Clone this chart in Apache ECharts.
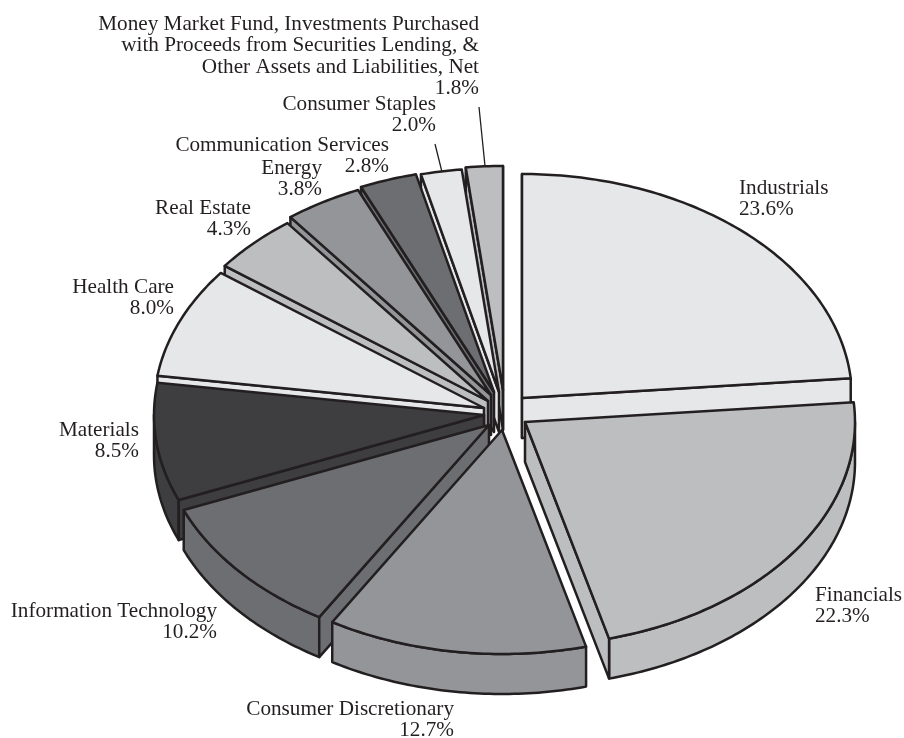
<!DOCTYPE html>
<html>
<head>
<meta charset="utf-8">
<style>html,body{margin:0;padding:0;background:#fff}#chart{width:904px;height:738px}</style>
<script src="https://cdn.jsdelivr.net/npm/echarts@6/dist/echarts.min.js"></script>
</head>
<body>
<div id="chart"></div>
<script>
// Sector weights, in percent, clockwise from twelve o'clock
const sectors = [
  'Industrials', 'Financials', 'Consumer Discretionary', 'Information Technology',
  'Materials', 'Health Care', 'Real Estate', 'Energy', 'Communication Services',
  'Consumer Staples',
  'Money Market Fund, Investments Purchased\nwith Proceeds from Securities Lending, &\nOther Assets and Liabilities, Net'
];
const weights = [23.6, 22.3, 12.7, 10.2, 8.5, 8.0, 4.3, 3.8, 2.8, 2.0, 1.8];

// Grey ramp used around the pie
const fills = ['#e6e7e8', '#bcbec0', '#939598', '#6d6e71', '#3e3e40', '#e6e7e8',
               '#bcbec0', '#939598', '#6d6e71', '#e6e7e8', '#bcbec0'];

// Wedge tips: each wedge is pulled away from the others by its own amount
const tips = [[522, 398], [525, 422], [502, 430], [489, 425], [484, 415], [484, 408],
              [488, 401], [491, 395], [494, 392], [499, 392], [503, 390]];

// Painting order, back of the pie first
const paintRank = [6, 9, 10, 8, 7, 5, 4, 3, 2, 1, 0];

// Label anchors: x, centre of the first line, alignment
const labelSpots = [
  [739, 188, 'left'], [815, 595, 'left'], [454, 709, 'right'], [217, 611, 'right'],
  [139, 430, 'right'], [174, 287, 'right'], [251, 208, 'right'], [322, 168, 'right'],
  [389, 145, 'right'], [436, 104, 'right'], [479, 24, 'right']
];

// Leader lines for the two thin wedges at the top
const leaders = { 9: [[435, 144], [442, 172]], 10: [[479, 107], [485, 166]] };

const RX = 330, RY = 224, DEPTH = 40, LINE_H = 21.3;
const INK = '#231f20';
const EPS = 1e-9;
const total = weights.reduce((a, b) => a + b, 0);

function arcPoints(ax, ay, from, to) {
  const steps = Math.max(2, Math.ceil((to - from) / 0.015));
  const pts = [];
  for (let k = 0; k <= steps; k++) {
    const t = from + (to - from) * k / steps;
    pts.push([ax + RX * Math.sin(t), ay - RY * Math.cos(t)]);
  }
  return pts;
}

function renderSlice(params, api) {
  const i = params.dataIndex;
  const before = weights.slice(0, i).reduce((a, b) => a + b, 0);
  const from = before / total * 2 * Math.PI;
  const to = (before + api.value(0)) / total * 2 * Math.PI;
  const [ax, ay] = tips[i];
  const rank = paintRank[i] * 10;
  const arc = arcPoints(ax, ay, from, to);
  const low = p => [p[0], p[1] + DEPTH];
  const first = arc[0], last = arc[arc.length - 1], tip = [ax, ay];
  const face = (points, z2) => ({
    type: 'polygon',
    z2,
    shape: { points },
    style: { fill: fills[i], stroke: INK, lineWidth: 2.5, lineJoin: 'round' }
  });
  const children = [];
  // Only faces turned toward the viewer are drawn: the front part of the rim,
  // then whichever cut faces look downward, then the top surface
  const rimFrom = Math.max(from, Math.PI / 2);
  const rimTo = Math.min(to, Math.PI * 3 / 2);
  if (rimFrom < rimTo) {
    const rim = arcPoints(ax, ay, rimFrom, rimTo);
    children.push(face(rim.concat(rim.map(low).reverse()), rank + 1));
  }
  if (Math.sin(from) <= EPS) {
    children.push(face([tip, first, low(first), low(tip)], rank + 2));
  }
  if (Math.sin(to) >= -EPS) {
    children.push(face([tip, last, low(last), low(tip)], rank + 3));
  }
  children.push(face([tip].concat(arc), rank + 4));

  const [lx, ly, align] = labelSpots[i];
  const text = sectors[i] + '\n' + api.value(0).toFixed(1) + '%';
  children.push({
    type: 'text',
    z2: 2000,
    x: lx,
    y: ly - LINE_H / 2 + 0.5,
    style: {
      text,
      fill: INK,
      font: '21.2px "Liberation Serif", serif',
      lineHeight: LINE_H,
      align,
      verticalAlign: 'top'
    }
  });
  if (leaders[i]) {
    const [a, b] = leaders[i];
    children.push({
      type: 'line',
      z2: 2000,
      shape: { x1: a[0], y1: a[1], x2: b[0], y2: b[1] },
      style: { stroke: INK, lineWidth: 1.3 }
    });
  }
  return { type: 'group', children };
}

const chart = echarts.init(document.getElementById('chart'), null, { renderer: 'canvas' });
chart.setOption({
  backgroundColor: '#ffffff',
  animation: false,
  series: [{
    type: 'custom',
    coordinateSystem: 'none',
    renderItem: renderSlice,
    data: weights.map(v => [v]),
    silent: true
  }]
});
</script>
</body>
</html>
